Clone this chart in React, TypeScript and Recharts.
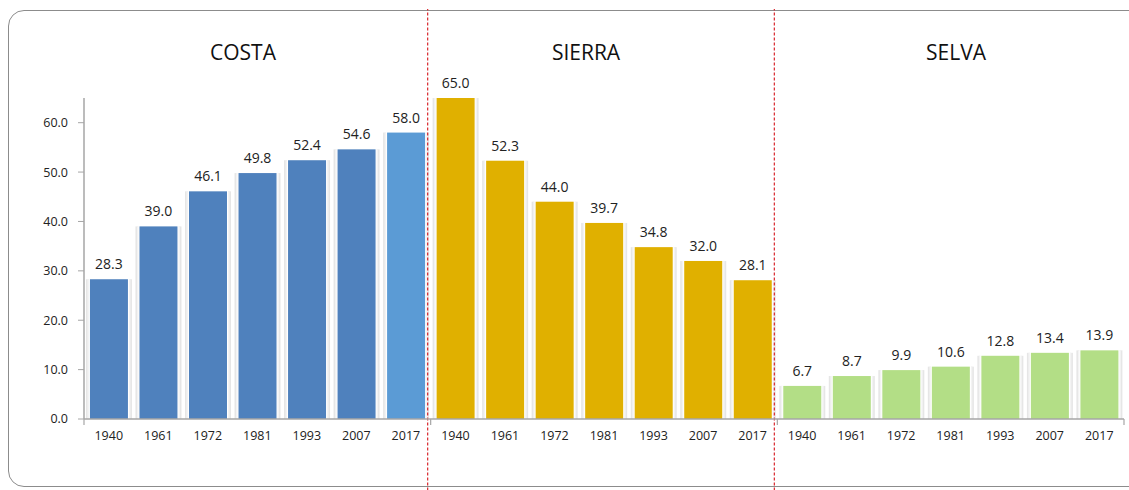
import React from "react";
import { BarChart, Bar, XAxis, YAxis, Cell, LabelList, ReferenceLine } from "recharts";

const regions = ["COSTA", "SIERRA", "SELVA"];
const years = ["1940", "1961", "1972", "1981", "1993", "2007", "2017"];
const costa = [28.3, 39.0, 46.1, 49.8, 52.4, 54.6, 58.0];
const sierra = [65.0, 52.3, 44.0, 39.7, 34.8, 32.0, 28.1];
const selva = [6.7, 8.7, 9.9, 10.6, 12.8, 13.4, 13.9];
const yTicks = [0, 10, 20, 30, 40, 50, 60];

const colors = {
  COSTA: "#4F81BD",
  COSTA_LAST: "#5B9BD5",
  SIERRA: "#E0B000",
  SELVA: "#B3DE86",
};

const seriesByRegion: Record<string, number[]> = { COSTA: costa, SIERRA: sierra, SELVA: selva };

const data = regions.flatMap((r) =>
  years.map((y, i) => ({
    key: `${r}-${y}`,
    region: r,
    year: y,
    value: seriesByRegion[r][i],
    fill: r === "COSTA" && i === years.length - 1 ? colors.COSTA_LAST : (colors as any)[r],
  }))
);

const firstKeys = regions.map((r) => `${r}-${years[0]}`);
const lastKeys = regions.map((r) => `${r}-${years[years.length - 1]}`);

const FONT = "'Open Sans', 'Noto Sans', sans-serif";

const ShadowBar = (props: any) => {
  const { x, y, width, height, fill } = props;
  if (height <= 0) return null;
  return (
    <g>
      <rect x={x - 4} y={y} width={width + 8} height={height} fill="#E6E6E6" />
      <rect x={x - 2.5} y={y} width={width + 5} height={height} fill="#F3F3F3" />
      <rect x={x - 1} y={y - 1} width={width + 2} height={height + 1} fill="#FFFFFF" />
      <rect x={x} y={y} width={width} height={height} fill={fill} />
    </g>
  );
};

const ShiftedLine = (props: any) => {
  const { x1, y1, x2, y2, dx = 0 } = props;
  return (
    <line
      x1={x1 + dx}
      x2={x2 + dx}
      y1={y1}
      y2={y2}
      stroke={props.stroke}
      strokeWidth={props.strokeWidth}
      strokeDasharray={props.strokeDasharray}
    />
  );
};

const titlePos = [243, 586, 956];

export default function App() {
  return (
    <div style={{ position: "absolute", left: 0, top: 0, width: 1129, height: 490, background: "#fff", fontFamily: FONT }}>
      <div
        style={{
          position: "absolute",
          left: 8,
          top: 10,
          width: 1140,
          height: 477,
          border: "1px solid #8C8C8C",
          borderRadius: 16,
          boxSizing: "border-box",
        }}
      />
      {regions.map((r, i) => (
        <div
          key={r}
          style={{
            position: "absolute",
            left: titlePos[i] - 100,
            width: 200,
            top: 38,
            textAlign: "center",
            fontSize: 21,
            color: "#111",
            fontFamily: FONT,
          }}
        >
          {r}
        </div>
      ))}
      <div style={{ position: "absolute", left: 0, top: 0 }}>
        <BarChart
          width={1129}
          height={490}
          data={data}
          margin={{ top: 98, right: 5, bottom: 41, left: 0 }}
          barCategoryGap="12%"
        >
          <XAxis
            dataKey="key"
            tickFormatter={(v: string) => v.split("-")[1]}
            interval={0}
            tickLine={false}
            tickSize={0}
            tickMargin={12}
            axisLine={{ stroke: "#A6A6A6", strokeWidth: 1.5 }}
            tick={{ fontSize: 12.5, fill: "#222", fontFamily: FONT }}
            height={30}
          />
          <YAxis
            domain={[0, 65]}
            ticks={yTicks}
            tickFormatter={(v: number) => v.toFixed(1)}
            width={84}
            tickSize={6}
            tickMargin={10}
            axisLine={{ stroke: "#A6A6A6", strokeWidth: 1.5 }}
            tickLine={{ stroke: "#A6A6A6" }}
            tick={{ fontSize: 12.5, fill: "#222", fontFamily: FONT }}
          />
          {firstKeys.map((k) => (
            <ReferenceLine
              key={`ts${k}`}
              segment={[
                { x: k, y: 0 },
                { x: k, y: -1.2 },
              ]}
              position="start"
              stroke="#A6A6A6"
              strokeWidth={1.2}
              ifOverflow="visible"
            />
          ))}
          <ReferenceLine
            segment={[
              { x: lastKeys[2], y: 0 },
              { x: lastKeys[2], y: -1.2 },
            ]}
            position="end"
            stroke="#A6A6A6"
            strokeWidth={1.2}
            ifOverflow="visible"
          />
          <Bar dataKey="value" isAnimationActive={false} shape={<ShadowBar />}>
            {data.map((d) => (
              <Cell key={d.key} fill={d.fill} />
            ))}
            <LabelList
              dataKey="value"
              position="top"
              offset={10}
              formatter={(v: any) => Number(v).toFixed(1)}
              style={{ fontSize: 14, fill: "#222", fontFamily: FONT }}
            />
          </Bar>
          {lastKeys.slice(0, 2).map((k) => (
            <ReferenceLine
              key={`d${k}`}
              segment={[
                { x: k, y: -14.5 },
                { x: k, y: 83 },
              ]}
              position="end"
              stroke="#D9262C"
              strokeWidth={1.2}
              strokeDasharray="3 2"
              ifOverflow="visible"
              shape={<ShiftedLine dx={-3} />}
            />
          ))}
        </BarChart>
      </div>
    </div>
  );
}
